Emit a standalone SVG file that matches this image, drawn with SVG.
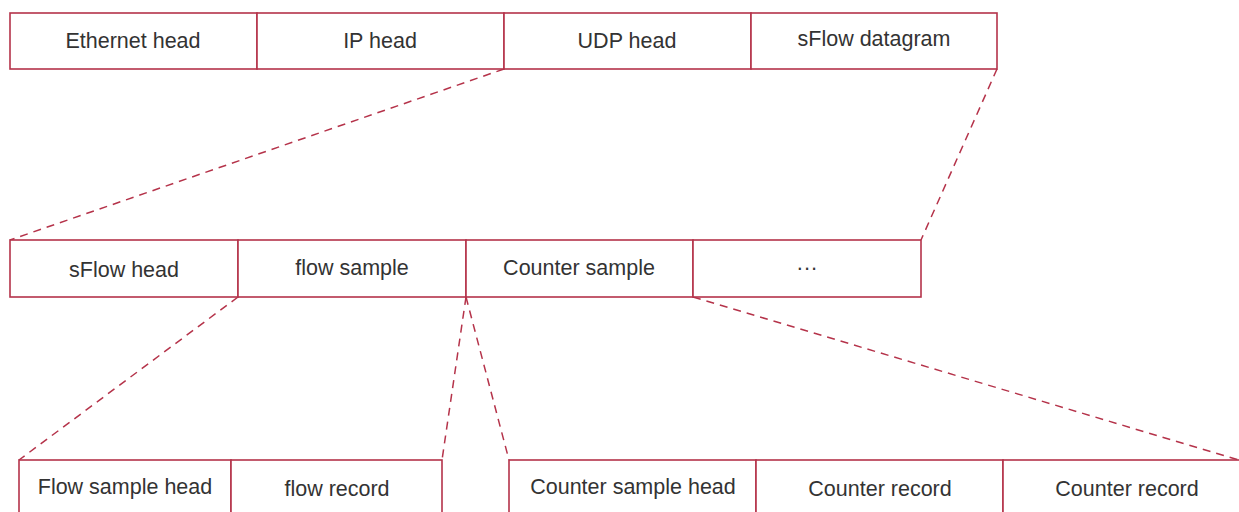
<svg xmlns="http://www.w3.org/2000/svg" width="1239" height="512" viewBox="0 0 1239 512">
<style>
.box{fill:#fff;stroke:#b5334a;stroke-width:1.6}
.lbl{font-family:"Liberation Sans",Arial,sans-serif;font-size:21.5px;fill:#333;text-anchor:middle}
.dash{fill:none;stroke:#b5334a;stroke-width:1.5;stroke-dasharray:8,6}
</style>
<rect width="1239" height="512" fill="#fff"/>
<g id="connectors">
<line class="dash" x1="504" y1="69" x2="10" y2="240"/>
<line class="dash" x1="997" y1="69" x2="921" y2="240"/>
<line class="dash" x1="238" y1="297" x2="19" y2="460"/>
<line class="dash" x1="466" y1="297" x2="442" y2="460"/>
<line class="dash" x1="466" y1="297" x2="509" y2="460"/>
<line class="dash" x1="693" y1="297" x2="1239" y2="460"/>
</g>
<g id="ethernet-head"><rect class="box" x="10" y="13" width="247" height="56"/><text class="lbl" x="133" y="48">Ethernet head</text></g>
<g id="ip-head"><rect class="box" x="257" y="13" width="247" height="56"/><text class="lbl" x="380" y="48">IP head</text></g>
<g id="udp-head"><rect class="box" x="504" y="13" width="247" height="56"/><text class="lbl" x="627" y="48">UDP head</text></g>
<g id="sflow-datagram"><rect class="box" x="751" y="13" width="246" height="56"/><text class="lbl" x="874" y="46">sFlow datagram</text></g>
<g id="sflow-head"><rect class="box" x="10" y="240" width="228" height="57"/><text class="lbl" x="124" y="277">sFlow head</text></g>
<g id="flow-sample"><rect class="box" x="238" y="240" width="228" height="57"/><text class="lbl" x="352" y="275">flow sample</text></g>
<g id="counter-sample"><rect class="box" x="466" y="240" width="227" height="57"/><text class="lbl" x="579" y="275">Counter sample</text></g>
<g id="ellipsis"><rect class="box" x="693" y="240" width="228" height="57"/><text class="lbl" x="807" y="275">···</text></g>
<g id="flow-sample-head"><rect class="box" x="19" y="460" width="212" height="60"/><text class="lbl" x="125" y="494">Flow sample head</text></g>
<g id="flow-record"><rect class="box" x="231" y="460" width="211" height="60"/><text class="lbl" x="337" y="496">flow record</text></g>
<g id="counter-sample-head"><rect class="box" x="509" y="460" width="247" height="60"/><text class="lbl" x="633" y="494">Counter sample head</text></g>
<g id="counter-record-1"><rect class="box" x="756" y="460" width="247" height="60"/><text class="lbl" x="880" y="496">Counter record</text></g>
<g id="counter-record-2"><rect class="box" x="1003" y="460" width="250" height="60"/><text class="lbl" x="1127" y="496">Counter record</text></g>
</svg>
